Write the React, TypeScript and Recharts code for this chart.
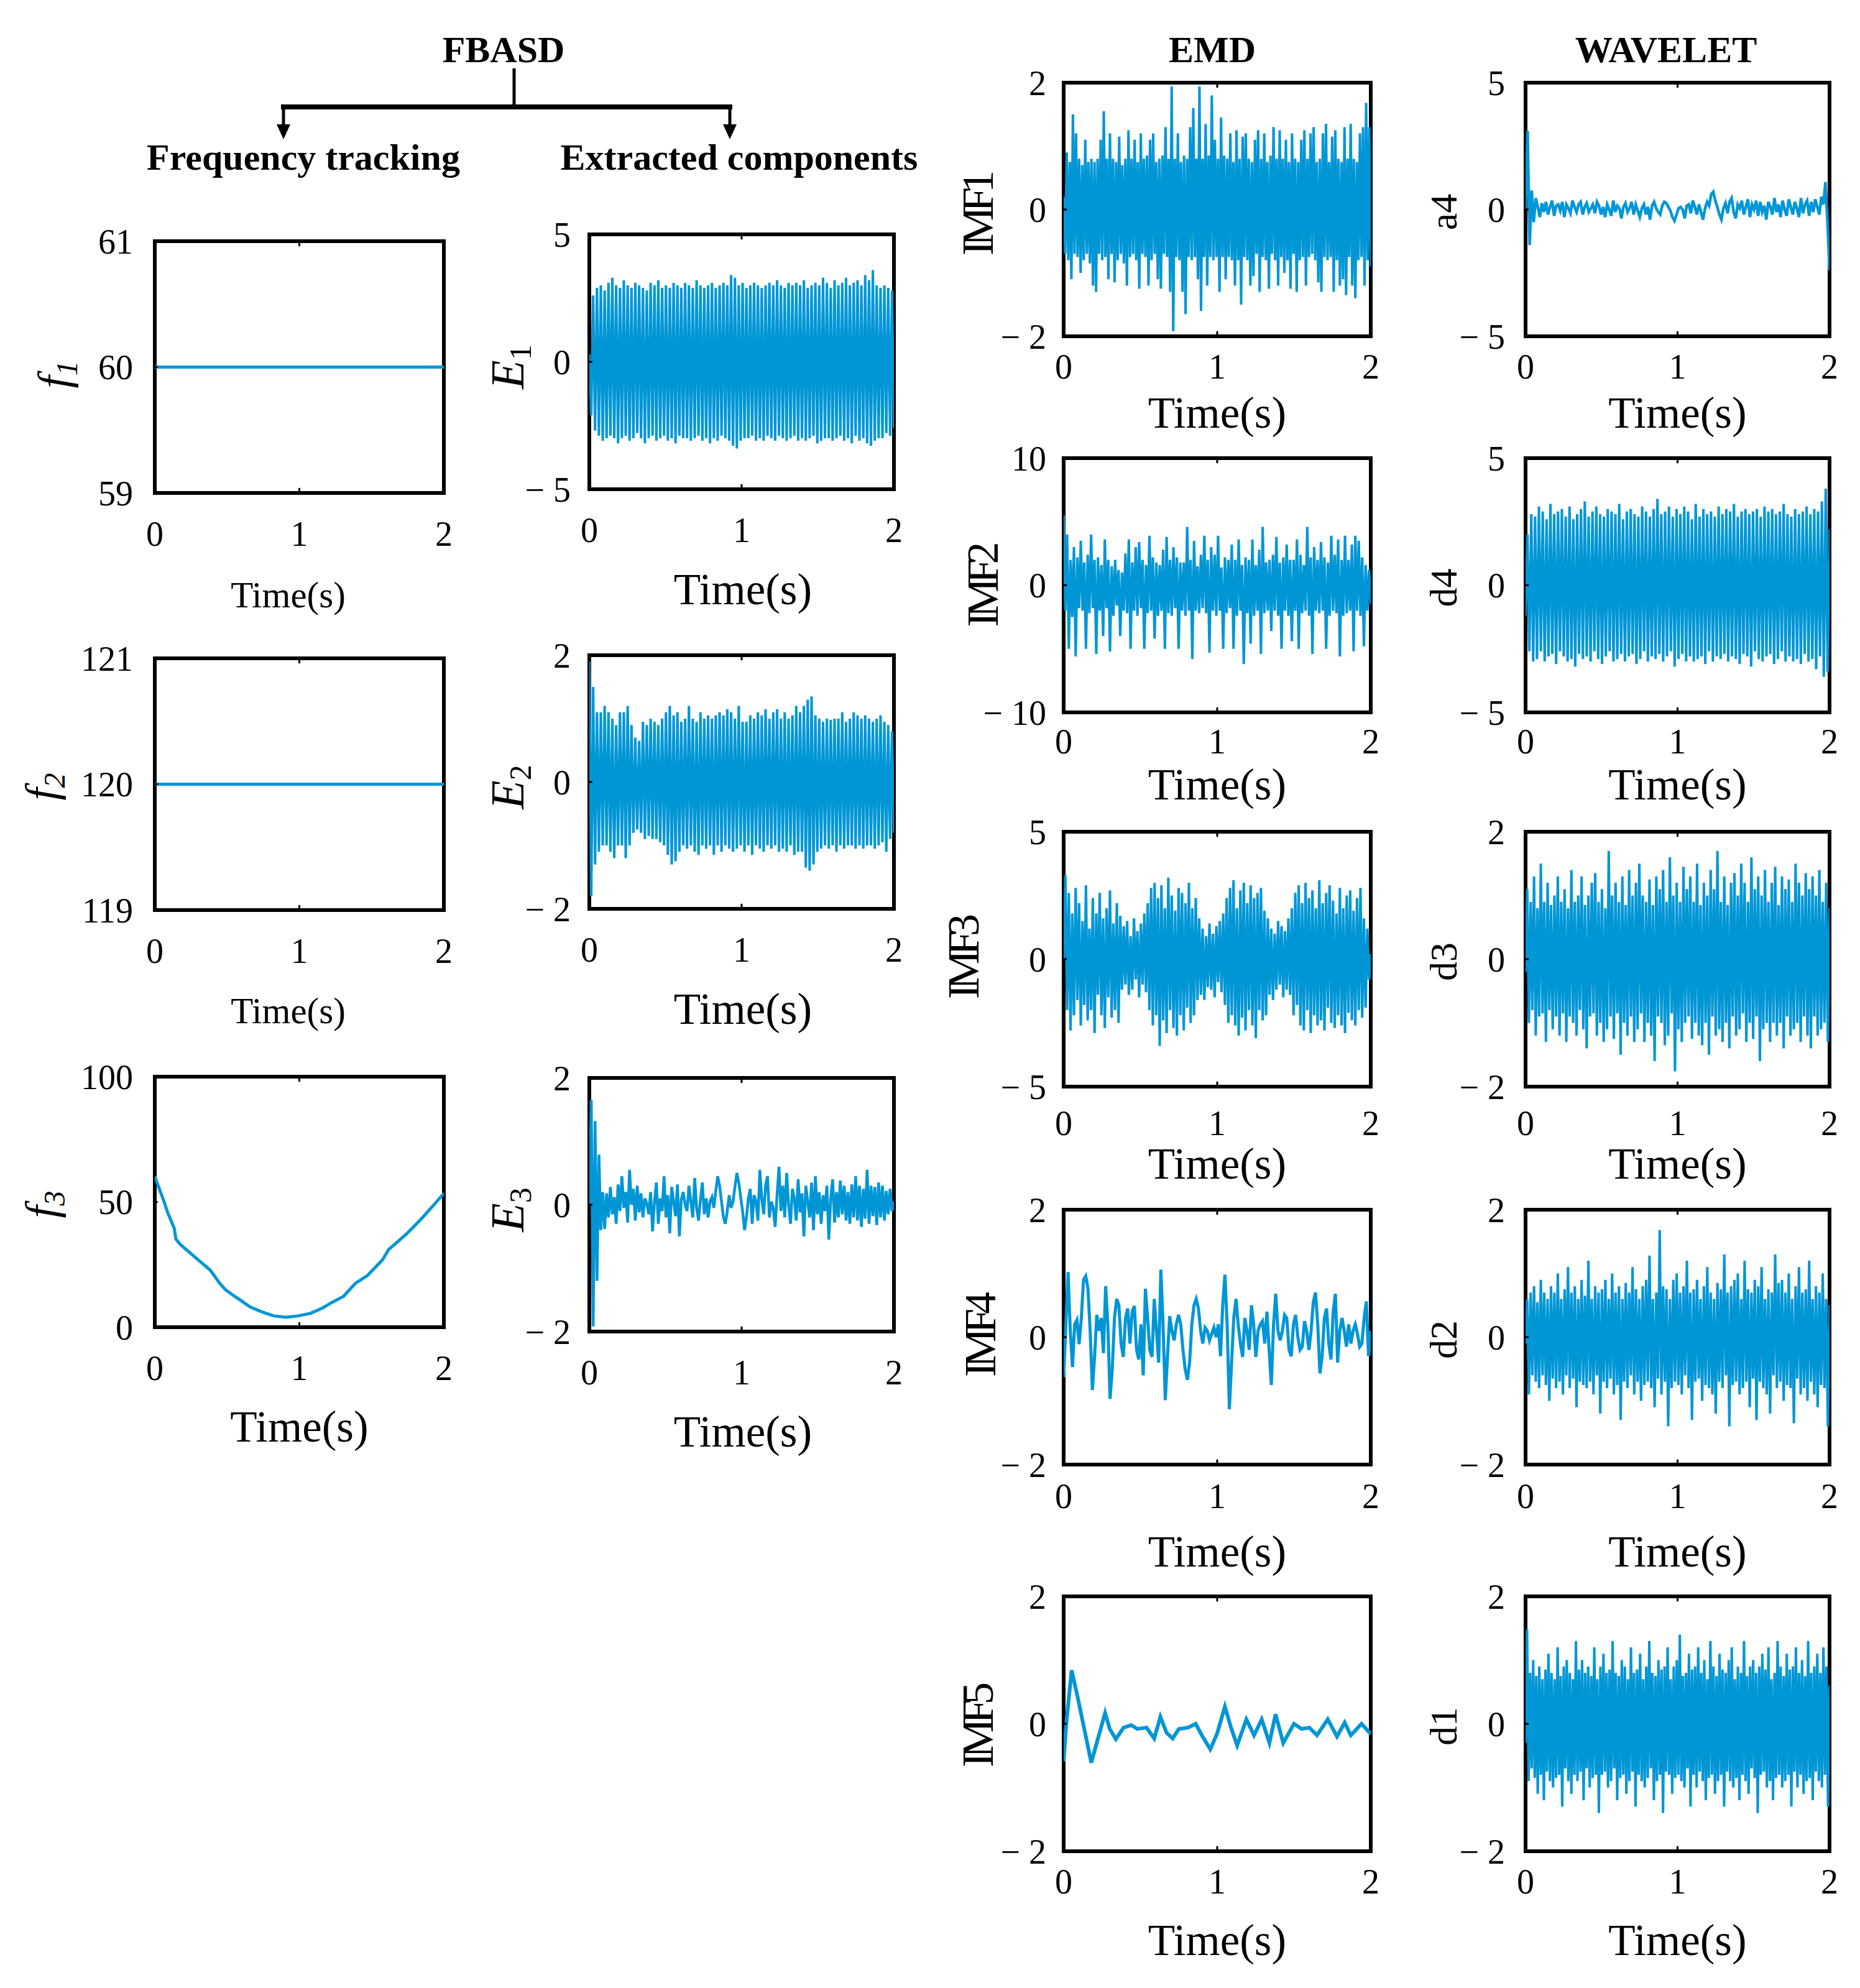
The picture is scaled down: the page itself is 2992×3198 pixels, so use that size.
import React from 'react';
import { LineChart, Line, XAxis, YAxis, ReferenceArea, ReferenceLine } from 'recharts';

const BLUE = '#0096d6';
const FONT = "'Liberation Serif', 'Times New Roman', serif";
const TIME_TICKS = [0, 1, 2];

// ---- FBASD: frequency tracking ----
const f1Values = [60, 60, 60, 60, 60];
const f2Values = [120, 120, 120, 120, 120];
const f3Time = [0, 0.02, 0.06, 0.09, 0.135, 0.146, 0.177, 0.28, 0.385, 0.449, 0.49, 0.553, 0.595, 0.658, 0.72, 0.772, 0.825, 0.908, 0.99, 1.075, 1.159, 1.22, 1.305, 1.388, 1.47, 1.576, 1.618, 1.743, 1.848, 1.93, 2.0];
const f3Values = [60.2, 57, 50.8, 45.6, 39.4, 35.2, 33, 27.9, 22.7, 17.5, 14.9, 12.3, 10.7, 8.1, 6.6, 5.5, 4.5, 4.0, 4.5, 5.5, 7.6, 9.7, 12.3, 17.5, 20.6, 26.9, 31, 37.3, 43.5, 48.8, 53.4];

// ---- FBASD: extracted components ----
const e1Values = [
  0.3, -2.1, 2.6, -2.7, 2.9, -2.9, 3.0, -3.1, 2.8, -3.0,
  3.1, -2.9, 3.3, -3.0, 3.0, -3.2, 2.9, -3.0, 3.2, -2.9,
  3.0, -3.1, 2.9, -3.0, 3.1, -2.8, 3.0, -3.0, 2.9, -3.2,
  2.8, -3.0, 3.1, -2.9, 3.0, -3.1, 3.2, -3.0, 2.9, -2.9,
  3.0, -3.1, 2.9, -3.0, 3.1, -3.2, 3.0, -2.9, 2.9, -3.0,
  3.1, -3.0, 3.0, -3.1, 2.9, -3.0, 3.2, -2.9, 3.0, -3.1,
  2.9, -3.0, 3.0, -3.2, 3.1, -3.0, 2.9, -3.1, 3.0, -2.9,
  3.1, -3.0, 3.0, -3.1, 3.4, -3.3, 3.3, -3.4, 3.0, -3.1,
  3.1, -3.0, 2.9, -3.0, 3.0, -2.9, 3.1, -3.1, 3.0, -3.0,
  2.9, -3.1, 3.0, -2.9, 3.1, -3.0, 3.0, -3.1, 3.2, -2.9,
  3.0, -3.0, 2.9, -3.1, 3.1, -3.0, 3.0, -2.9, 3.1, -3.1,
  3.0, -3.0, 3.2, -3.1, 2.9, -3.0, 3.0, -2.9, 3.1, -3.2,
  3.0, -3.1, 3.3, -3.0, 3.1, -3.0, 2.9, -3.1, 3.2, -3.0,
  3.0, -2.9, 3.1, -3.1, 3.3, -3.0, 3.0, -3.2, 3.1, -2.9,
  3.2, -3.1, 3.0, -3.0, 3.4, -3.2, 3.2, -3.3, 3.6, -3.1,
  3.0, -3.0, 2.9, -3.0, 3.0, -2.8, 2.9, -2.9, 2.8, -2.6,
];
const e2Values = [
  1.9, -1.8, 1.5, -1.3, 1.1, -1.1, 1.1, -1.0, 1.2, -1.0,
  1.1, -1.1, 1.0, -1.2, 0.9, -1.0, 1.1, -1.0, 1.1, -1.2,
  1.2, -1.0, 0.9, -0.8, 0.7, -0.75, 0.65, -0.8, 0.95, -0.9,
  0.9, -0.85, 1.0, -0.9, 0.95, -0.9, 0.9, -0.95, 1.0, -1.0,
  1.1, -1.15, 1.2, -1.3, 1.05, -1.25, 1.1, -1.1, 0.95, -1.0,
  1.0, -1.05, 1.2, -1.0, 1.0, -1.1, 0.95, -1.15, 1.1, -1.0,
  1.0, -1.05, 1.05, -1.0, 1.0, -1.15, 1.05, -1.0, 1.1, -1.1,
  1.05, -1.0, 1.15, -1.05, 1.1, -1.1, 1.0, -1.05, 1.2, -1.0,
  0.95, -1.1, 0.95, -1.0, 1.05, -1.15, 1.0, -1.0, 1.1, -1.05,
  1.05, -1.1, 1.15, -1.0, 1.0, -1.05, 1.1, -1.0, 1.15, -1.1,
  1.0, -1.05, 1.1, -1.1, 1.0, -1.0, 1.05, -1.15, 1.2, -1.1,
  1.1, -1.1, 1.2, -1.35, 1.3, -1.4, 1.35, -1.3, 1.05, -1.1,
  1.0, -1.05, 0.95, -1.0, 1.0, -1.05, 0.98, -1.0, 1.0, -1.1,
  1.0, -1.0, 1.1, -1.05, 0.95, -1.0, 1.0, -1.0, 1.1, -1.05,
  1.05, -1.0, 1.0, -1.05, 1.05, -1.0, 1.0, -1.0, 0.95, -1.05,
  1.0, -1.0, 1.05, -0.95, 0.95, -1.1, 0.9, -0.9, 0.8, -0.8,
];
const e3Values = [
  0.0, 1.65, -1.92, 1.32, -1.2, 0.79, -0.4, 0.2, -0.38, 0.18,
  -0.2, 0.28, -0.15, 0.12, -0.3, 0.32, -0.1, 0.45, -0.05, 0.2,
  -0.28, 0.55, 0.0, 0.25, -0.25, 0.3, -0.12, 0.18, -0.2, 0.1,
  0.02, -0.15, 0.2, -0.42, 0.05, 0.35, -0.3, 0.1, -0.1, 0.45,
  -0.2, 0.15, -0.45, 0.28, 0.05, -0.18, 0.32, -0.5, 0.08, 0.2,
  0.0, -0.1, 0.3, 0.05, -0.2, 0.42, -0.05, -0.25, 0.08, 0.35,
  -0.15, 0.1, -0.2, 0.05, 0.12, -0.05, 0.22, 0.45, 0.3, 0.05,
  -0.2, -0.3, -0.1, 0.15, -0.05, 0.05, 0.28, 0.5, 0.35, 0.12,
  -0.1, -0.4, -0.2, 0.1, 0.25, -0.3, 0.15, 0.05, -0.25, 0.55,
  0.1, -0.15, 0.3, 0.45, -0.2, 0.05, -0.05, -0.35, 0.15, 0.6,
  -0.1, 0.3, -0.2, 0.5, 0.0, -0.3, 0.25, 0.1, -0.25, 0.4,
  -0.12, 0.18, -0.5, 0.3, 0.05, -0.2, 0.35, -0.4, 0.45, -0.15,
  0.2, -0.3, 0.15, -0.1, 0.3, -0.55, 0.1, 0.4, -0.28, 0.2,
  -0.2, 0.38, -0.15, 0.3, -0.25, 0.2, -0.3, 0.32, -0.2, 0.45,
  -0.25, 0.3, -0.35, 0.25, -0.22, 0.55, -0.3, 0.3, -0.18, 0.28,
  -0.32, 0.35, -0.2, 0.3, -0.25, 0.22, -0.15, 0.25, -0.1, 0.05,
];

// ---- EMD ----
const imf1Values = [
  0.2, -0.7, 0.9, -0.8, 0.75, -1.1, 1.5, -0.7, 1.2, -0.75,
  0.8, -1.0, 0.7, -0.8, 1.1, -0.7, 0.75, -0.85, 0.8, -1.2,
  0.75, -1.3, 0.8, -0.7, 1.1, -0.8, 1.55, -0.75, 0.8, -1.1,
  1.2, -0.7, 0.8, -1.15, 0.75, -0.8, 1.15, -0.7, 0.7, -0.85,
  0.8, -1.2, 1.25, -0.75, 0.8, -0.7, 1.1, -0.8, 0.75, -1.25,
  1.2, -0.7, 0.8, -0.75, 0.85, -1.2, 1.1, -0.8, 1.2, -0.7,
  0.75, -1.1, 0.8, -1.25, 0.85, -0.7, 1.3, -0.75, 0.8, -1.3,
  1.94, -1.92, 0.8, -0.75, 1.2, -0.8, 0.75, -1.3, 0.85, -1.65,
  0.8, -0.75, 1.3, -0.8, 1.6, -0.75, 0.8, -1.1, 1.94, -1.6,
  0.8, -0.75, 1.35, -1.2, 0.85, -0.75, 1.8, -0.8, 1.1, -0.75,
  0.8, -1.3, 1.45, -0.75, 0.85, -1.1, 0.8, -0.75, 1.2, -0.8,
  0.75, -1.2, 1.25, -0.8, 0.8, -1.5, 1.15, -0.75, 1.2, -0.8,
  0.8, -1.2, 0.75, -1.05, 1.1, -0.7, 1.25, -1.3, 0.8, -0.75,
  1.2, -0.8, 0.75, -1.25, 0.85, -0.7, 1.3, -0.8, 0.8, -1.2,
  1.25, -0.75, 0.8, -1.0, 1.1, -0.8, 0.75, -1.25, 1.2, -0.7,
  0.8, -1.3, 0.75, -0.8, 1.1, -0.75, 1.25, -1.2, 0.8, -0.75,
  1.2, -0.7, 1.3, -0.8, 0.75, -1.15, 0.8, -1.3, 1.2, -0.75,
  1.35, -0.8, 0.75, -0.75, 1.15, -1.3, 1.25, -0.8, 0.8, -1.2,
  0.75, -1.1, 1.3, -1.35, 0.8, -0.75, 1.35, -1.2, 0.8, -1.4,
  0.75, -0.8, 1.2, -0.75, 1.3, -1.2, 1.68, -0.8, 1.3, -0.9,
];
const imf2Values = [
  5.5, -2.0, 4.0, -5.0, 2.0, -2.5, 3.0, -5.6, 2.2, -1.8,
  3.5, -2.0, 1.8, -5.0, 2.4, -2.2, 4.0, -1.8, 2.0, -5.4,
  2.2, -2.0, 1.6, -4.0, 3.6, -1.8, 2.0, -5.2, 1.5, -2.4,
  2.0, -1.6, 1.2, -4.0, 1.0, -2.0, 2.5, -2.2, 3.6, -5.0,
  1.8, -2.0, 3.0, -2.4, 3.4, -1.8, 2.0, -5.0, 1.6, -2.2,
  3.9, -2.0, 2.2, -4.2, 1.8, -2.4, 1.6, -2.0, 2.8, -5.0,
  3.8, -2.2, 2.0, -2.4, 3.0, -1.8, 2.2, -5.0, 1.8, -2.0,
  1.8, -2.4, 4.6, -2.0, 2.0, -5.8, 3.5, -2.0, 1.5, -2.2,
  2.4, -1.8, 3.9, -2.2, 2.0, -5.3, 3.0, -2.0, 2.4, -2.4,
  3.9, -2.0, 1.4, -5.0, 2.2, -2.2, 2.0, -1.8, 3.2, -5.0,
  2.0, -2.4, 3.6, -2.0, 1.6, -6.2, 2.2, -2.2, 2.0, -4.6,
  3.6, -2.4, 1.6, -2.0, 2.8, -5.4, 4.6, -2.2, 1.8, -2.0,
  2.0, -3.6, 2.4, -2.0, 3.8, -2.4, 1.8, -5.0, 2.2, -2.0,
  3.2, -2.4, 2.0, -4.4, 2.0, -2.0, 3.6, -5.0, 2.4, -2.2,
  1.6, -2.0, 4.6, -2.4, 2.2, -5.4, 3.0, -2.0, 2.0, -2.2,
  3.4, -2.0, 2.2, -5.0, 1.8, -2.4, 3.9, -2.0, 2.4, -2.2,
  3.6, -5.6, 2.0, -2.4, 3.9, -2.2, 2.0, -2.0, 3.2, -5.2,
  3.9, -2.0, 3.5, -2.4, 2.2, -4.8, 1.6, -2.0, 1.2, -1.5,
];
const imf3Values = [
  0.0, 3.3, -2.0, 2.6, -2.8, 1.8, -2.2, 2.8, -1.6, 2.2,
  -2.6, 1.5, -1.8, 2.9, -2.4, 1.2, -2.0, 2.4, -2.9, 1.8,
  -1.4, 2.6, -2.2, 1.6, -2.7, 2.0, -1.5, 2.7, -2.3, 1.4,
  -2.0, 2.2, -2.5, 1.7, -1.2, 1.3, -1.0, 1.5, -1.4, 0.9,
  -1.2, 1.6, -0.8, 1.1, -1.5, 1.4, -1.0, 1.8, -1.3, 2.2,
  -2.0, 2.8, -2.6, 3.0, -2.2, 2.4, -3.4, 2.9, -2.4, 2.0,
  -2.9, 3.2, -2.0, 2.5, -2.7, 1.9, -3.0, 2.8, -2.2, 2.6,
  -2.8, 2.2, -1.9, 3.0, -2.5, 2.0, -2.2, 2.4, -1.6, 1.6,
  -1.4, 1.2, -1.6, 0.9, -1.1, 1.4, -1.2, 1.0, -1.5, 1.3,
  -0.9, 1.5, -1.3, 1.8, -1.8, 2.4, -2.5, 2.8, -2.2, 3.1,
  -2.6, 2.0, -3.0, 2.7, -2.3, 3.0, -2.8, 2.2, -2.0, 2.9,
  -2.6, 2.4, -3.1, 2.6, -2.0, 2.8, -2.4, 1.9, -2.2, 1.6,
  -1.4, 1.2, -1.6, 1.0, -1.2, 1.5, -1.0, 1.3, -1.5, 1.1,
  -1.2, 1.6, -1.4, 2.0, -2.2, 2.6, -1.8, 2.9, -2.6, 2.2,
  -2.8, 3.0, -2.0, 2.4, -2.9, 2.7, -2.2, 2.0, -2.6, 3.1,
  -2.4, 2.2, -2.8, 2.6, -1.9, 2.9, -2.5, 2.3, -2.7, 1.8,
  -2.2, 2.8, -2.6, 2.0, -2.9, 2.5, -2.1, 2.7, -2.4, 1.9,
  -2.6, 2.4, -2.0, 2.8, -2.3, 1.6, -1.9, 1.2, -0.8, 0.2,
];
const imf4Values = [
  -0.63, 0.2, 1.02, 0.1, -0.47, 0.2, 0.27, -0.11, 0.3, 0.9,
  0.96, 0.76, 0.1, -0.83, -0.3, 0.35, 0.1, 0.3, -0.25, 0.8,
  0.2, -0.97, -0.5, 0.3, 0.6, 0.5, -0.1, -0.31, 0.3, 0.45,
  -0.1, 0.4, 0.49, -0.2, -0.35, 0.2, -0.6, 0.76, 0.3, -0.2,
  -0.31, 0.6, 0.1, -0.4, 1.06, 0.2, -0.99, -0.3, 0.33, 0.1,
  -0.05, 0.2, 0.35, 0.2, -0.2, -0.5, -0.67, -0.4, 0.2, 0.5,
  0.6, 0.45, 0.1, -0.1, 0.15, 0.1, -0.05, 0.05, 0.15, 0.0,
  0.2, -0.3, 0.5, 0.98, 0.2, -1.13, -0.4, 0.3, 0.6, 0.2,
  -0.1, -0.31, 0.3, 0.1, -0.2, 0.5, 0.2, -0.31, 0.1, 0.2,
  0.25, -0.1, 0.4, -0.2, -0.75, 0.2, 0.68, 0.1, -0.05, 0.1,
  0.35, 0.3, -0.2, -0.3, 0.2, 0.35, 0.0, -0.2, -0.15, 0.25,
  0.1, -0.2, 0.1, 0.55, 0.7, 0.2, -0.57, -0.3, 0.3, 0.45,
  -0.1, -0.35, 0.4, 0.68, -0.4, 0.1, 0.3, 0.1, -0.15, 0.2,
  -0.1, 0.1, 0.2, 0.05, -0.15, -0.1, 0.3, 0.56, -0.3, 0.1,
];
const imf5Time = [0, 0.017, 0.052, 0.09, 0.18, 0.22, 0.27, 0.3, 0.34, 0.39, 0.44, 0.48, 0.54, 0.59, 0.63, 0.67, 0.71, 0.75, 0.81, 0.86, 0.9, 0.955, 1.0, 1.05, 1.09, 1.13, 1.19, 1.24, 1.29, 1.34, 1.38, 1.43, 1.5, 1.55, 1.6, 1.65, 1.72, 1.78, 1.83, 1.87, 1.94, 2.0];
const imf5Values = [-0.59, 0.0, 0.84, 0.43, -0.61, -0.26, 0.17, -0.08, -0.24, -0.06, -0.02, -0.08, -0.06, -0.23, 0.11, -0.14, -0.23, -0.08, -0.06, 0.0, -0.18, -0.4, -0.15, 0.27, -0.06, -0.34, 0.07, -0.18, 0.07, -0.3, 0.15, -0.3, 0.0, -0.08, -0.06, -0.18, 0.07, -0.2, 0.02, -0.18, 0.0, -0.16];

// ---- WAVELET ----
const a4Values = [
  0.0, 3.1, -1.4, 0.75, -0.5, 0.45, 0.1, -0.3, 0.25, -0.1,
  0.3, -0.2, 0.1, 0.35, -0.25, 0.15, 0.2, -0.05, 0.3, -0.3,
  0.2, 0.05, -0.15, 0.35, 0.1, -0.1, 0.2, 0.3, -0.2, 0.1,
  0.25, -0.1, 0.05, 0.2, -0.15, 0.3, 0.15, -0.2, 0.1, -0.3,
  0.2, 0.0, -0.25, 0.35, -0.1, 0.15, 0.05, -0.35, 0.1, 0.25,
  -0.1, 0.05, 0.3, -0.2, 0.2, -0.05, -0.3, 0.05, 0.2, -0.2,
  0.1, -0.4, 0.15, 0.3, 0.05, -0.1, -0.2, 0.15, 0.3, 0.25,
  0.1, -0.05, -0.3, -0.45, -0.2, 0.05, 0.1, 0.0, -0.35, 0.15,
  0.2, -0.15, 0.35, 0.1, -0.2, 0.2, -0.1, -0.4, 0.05, 0.3,
  0.15, 0.6, 0.7, 0.35, 0.1, -0.2, -0.4, 0.05, 0.25, -0.15,
  0.3, 0.45, -0.1, -0.35, 0.2, 0.05, 0.35, -0.2, 0.1, 0.4,
  -0.3, 0.2, 0.0, 0.35, -0.25, 0.3, -0.1, 0.15, -0.4, 0.3,
  0.1, -0.2, 0.45, -0.1, 0.2, -0.3, 0.35, 0.0, -0.25, 0.4,
  0.1, -0.2, 0.3, 0.05, -0.3, 0.45, -0.15, 0.2, 0.35, -0.25,
  0.3, -0.1, 0.4, 0.1, -0.2, 0.5, 0.2, 1.08, -0.5, -2.4,
];
const d4Values = [
  -1.2, 2.0, -2.6, 2.8, -3.0, 2.7, -2.9, 3.1, -2.6, 2.9,
  -3.0, 2.6, -2.8, 3.2, -2.7, 2.8, -3.1, 2.9, -2.6, 3.0,
  -2.8, 2.7, -3.0, 3.1, -2.9, 2.6, -3.2, 2.8, -2.7, 3.0,
  -2.9, 3.3, -2.8, 2.7, -3.0, 2.9, -2.6, 3.1, -2.9, 2.8,
  -3.1, 2.7, -2.8, 3.0, -2.6, 2.9, -3.0, 2.8, -2.9, 3.2,
  -2.7, 2.6, -3.0, 2.9, -2.8, 3.0, -2.7, 2.8, -3.1, 2.7,
  -2.9, 3.1, -2.6, 2.9, -3.0, 2.7, -2.8, 3.0, -2.9, 3.4,
  -2.7, 2.8, -3.0, 2.9, -2.8, 3.1, -2.6, 2.7, -3.2, 3.0,
  -2.9, 2.8, -2.7, 3.1, -3.0, 2.9, -2.8, 2.6, -3.0, 3.2,
  -2.9, 2.7, -2.8, 3.0, -3.1, 2.8, -2.6, 2.9, -3.0, 2.7,
  -2.8, 3.1, -2.9, 2.8, -2.7, 3.0, -3.0, 2.9, -2.8, 3.2,
  -2.9, 2.7, -3.1, 2.9, -2.7, 3.0, -2.8, 2.8, -3.2, 2.9,
  -2.6, 3.0, -2.9, 2.7, -3.0, 3.1, -2.8, 2.9, -2.7, 3.0,
  -3.1, 2.8, -2.9, 2.9, -2.6, 3.2, -3.0, 2.8, -2.8, 2.7,
  -3.0, 3.0, -2.9, 2.8, -3.1, 2.9, -2.7, 3.1, -3.0, 2.8,
  -2.9, 3.0, -3.3, 2.9, -2.8, 3.3, -3.6, 3.8, -3.4, 2.2,
];
const d3Values = [
  -0.2, 1.1, -1.0, 0.9, -0.8, 1.3, -1.2, 0.8, -0.9, 1.5,
  -0.85, 0.9, -1.3, 1.2, -0.8, 0.85, -1.1, 1.0, -0.9, 1.3,
  -1.2, 0.9, -0.85, 1.1, -1.3, 0.8, -0.9, 1.4, -1.0, 0.9,
  -1.2, 1.0, -0.8, 1.3, -1.1, 0.85, -1.4, 1.0, -0.9, 1.2,
  -0.85, 1.35, -1.2, 0.9, -1.0, 1.1, -1.3, 0.8, -1.1, 1.7,
  -0.9, 1.0, -1.25, 1.2, -0.85, 0.9, -1.5, 1.3, -1.0, 0.85,
  -1.2, 1.4, -0.9, 1.0, -1.3, 1.2, -1.1, 1.5, -0.85, 1.0,
  -1.3, 0.9, -1.0, 1.25, -1.2, 0.85, -1.6, 1.3, -0.9, 1.1,
  -1.0, 1.4, -1.35, 0.9, -1.2, 1.6, -0.85, 1.0, -1.76, 1.2,
  -1.1, 0.9, -1.3, 1.45, -1.0, 1.1, -0.9, 1.3, -1.25, 0.9,
  -1.0, 1.5, -1.2, 0.85, -1.35, 1.2, -1.0, 1.0, -1.5, 1.4,
  -0.9, 1.1, -1.2, 1.7, -1.1, 0.9, -1.3, 1.3, -1.0, 0.85,
  -1.4, 1.2, -0.9, 1.35, -1.2, 1.0, -1.1, 1.5, -0.85, 1.2,
  -1.3, 0.9, -1.0, 1.6, -1.25, 1.1, -0.9, 1.3, -1.6, 1.0,
  -1.1, 1.4, -1.0, 0.9, -1.3, 1.2, -1.0, 1.45, -1.2, 0.85,
  -1.0, 1.3, -1.4, 1.1, -0.9, 1.25, -1.2, 0.9, -1.1, 1.5,
  -1.0, 1.2, -1.3, 1.0, -0.9, 1.35, -1.2, 1.1, -1.4, 1.3,
  -0.9, 1.0, -1.2, 1.4, -1.1, 0.9, -1.0, 1.2, -1.3, 0.8,
];
const d2Values = [
  -0.1, 0.6, -0.9, 0.7, -0.6, 0.8, -0.7, 0.55, -0.8, 0.9,
  -0.6, 0.7, -0.75, 0.6, -1.0, 0.8, -0.65, 0.7, -0.8, 1.0,
  -0.7, 0.6, -0.9, 0.75, -0.6, 1.1, -0.8, 0.7, -0.65, 0.8,
  -1.1, 0.6, -0.7, 0.9, -0.75, 0.65, -0.8, 1.2, -0.7, 0.6,
  -0.9, 0.8, -0.6, 0.7, -1.2, 0.75, -0.7, 0.9, -0.8, 0.6,
  -0.65, 1.0, -0.9, 0.7, -0.75, 0.8, -1.3, 0.6, -0.7, 0.85,
  -0.8, 0.7, -0.6, 1.1, -0.9, 0.75, -0.7, 0.6, -1.0, 0.8,
  -0.75, 0.9, -0.7, 1.28, -0.8, 0.6, -1.1, 0.7, -0.65, 1.68,
  -0.9, 0.8, -0.7, 0.75, -1.4, 0.6, -0.8, 0.9, -0.7, 1.0,
  -0.75, 0.7, -0.9, 0.8, -0.6, 1.2, -0.8, 0.7, -1.3, 0.75,
  -0.7, 0.9, -0.65, 0.6, -1.0, 0.8, -0.75, 1.1, -0.8, 0.7,
  -0.9, 0.6, -1.2, 0.85, -0.7, 0.75, -0.8, 1.3, -0.6, 0.7,
  -1.4, 0.8, -0.75, 0.9, -0.7, 1.0, -0.9, 0.6, -0.8, 1.2,
  -0.7, 0.75, -1.1, 0.7, -0.65, 0.9, -1.3, 0.8, -0.7, 1.1,
  -0.8, 0.6, -0.9, 0.75, -1.2, 0.7, -0.6, 1.3, -0.8, 0.85,
  -0.7, 0.9, -1.0, 0.7, -0.75, 1.0, -0.8, 0.6, -1.35, 0.8,
  -0.65, 1.1, -0.9, 0.7, -0.8, 0.75, -1.0, 1.2, -0.7, 0.6,
  -0.9, 0.8, -1.1, 0.7, -0.75, 1.0, -0.8, 0.6, -1.4, 0.5,
];
const d1Values = [
  -0.3, 1.48, -0.9, 0.8, -0.7, 1.0, -0.85, 0.75, -1.1, 0.9,
  -0.8, 0.7, -1.2, 0.85, -0.75, 1.1, -0.9, 0.8, -1.0, 0.7,
  -0.85, 1.2, -0.8, 0.75, -1.3, 0.9, -0.7, 1.0, -0.9, 0.8,
  -1.1, 0.7, -0.8, 1.3, -0.9, 0.85, -0.75, 1.0, -1.2, 0.8,
  -0.7, 0.9, -1.0, 0.75, -0.85, 1.2, -0.8, 0.7, -1.4, 0.9,
  -0.8, 1.1, -0.75, 0.8, -1.0, 0.85, -0.9, 1.3, -0.7, 0.8,
  -1.2, 0.75, -0.85, 1.0, -0.8, 0.9, -1.1, 0.7, -0.9, 1.2,
  -0.75, 0.8, -1.3, 0.85, -0.8, 1.1, -0.9, 0.7, -1.0, 0.9,
  -0.85, 1.3, -0.7, 0.8, -1.2, 0.75, -0.9, 1.0, -0.8, 0.85,
  -1.4, 0.9, -0.75, 1.2, -0.8, 0.7, -1.1, 0.9, -0.85, 1.0,
  -0.8, 1.4, -0.9, 0.75, -1.0, 0.8, -0.7, 1.1, -1.3, 0.85,
  -0.8, 0.9, -1.0, 1.2, -0.75, 0.8, -0.9, 1.0, -1.2, 0.7,
  -0.85, 1.3, -0.8, 0.9, -1.1, 0.75, -0.9, 1.1, -0.8, 0.85,
  -1.3, 0.8, -0.75, 1.0, -0.9, 1.2, -1.0, 0.7, -0.85, 0.9,
  -1.2, 0.8, -0.8, 1.3, -0.9, 0.75, -1.1, 0.9, -0.7, 1.0,
  -0.85, 0.8, -1.4, 0.9, -0.8, 1.1, -0.75, 0.85, -1.0, 1.2,
  -0.9, 0.7, -1.2, 0.8, -0.85, 1.3, -0.8, 0.9, -1.0, 0.75,
  -0.9, 1.1, -0.8, 0.85, -1.3, 0.9, -0.75, 1.2, -1.0, 0.8,
  -0.8, 1.0, -1.1, 0.75, -0.9, 1.3, -0.85, 0.8, -1.2, 0.9,
  -0.75, 1.1, -0.9, 0.8, -1.0, 1.2, -0.8, 0.9, -1.3, 0.6,
];

type Row = { t: number; v: number };
// evenly sampled over 0..2 s
const uniform = (vals: number[]): Row[] => vals.map((v, i) => ({ t: (2 * i) / (vals.length - 1), v }));
const paired = (ts: number[], vals: number[]): Row[] => ts.map((t, i) => ({ t, v: vals[i] }));

const fmtTick = (v: number) => (v < 0 ? `\u2212 ${Math.abs(v)}` : String(v));

type Part = { text: string; italic?: boolean; sub?: boolean };

interface PanelProps {
  x: number; y: number; w: number; h: number;
  data: Row[];
  domain: [number, number];
  yTicks: number[];
  label: Part[];
  labelSize: number;
  labelSpacing?: number;
  labelDx: number;
  labelDy?: number;
  yTickGap: number;
  xTickGap: number;
  timeGap: number;
  timeSize?: number;
  timeDx?: number;
  stroke?: number;
}

const L = 230, T = 40, R = 40, B = 240;
const tickStyle = { fontSize: 56, fill: '#000', fontFamily: FONT };

function Panel(p: PanelProps) {
  const lx = L + p.labelDx;
  const ly = T + p.h / 2 + (p.labelDy || 0);
  const tx = L + p.w / 2 + (p.timeDx || 0);
  const ty = T + p.h + p.timeGap;
  const subSize = Math.round(p.labelSize * 0.66);
  const [lo, hi] = p.domain;
  const mid = (lo + hi) / 2;
  const tick = (hi - lo) * 0.02;

  const yTitle = () => (
    <text x={lx} y={ly} transform={`rotate(-90 ${lx} ${ly})`} textAnchor="middle" dominantBaseline="central"
      fontFamily={FONT} fontSize={p.labelSize} letterSpacing={p.labelSpacing || 0} fill="#000">
      {p.label.map((part, i) => (
        <tspan key={i} fontStyle={part.italic ? 'italic' : 'normal'} fontSize={part.sub ? subSize : p.labelSize}
          dy={part.sub ? p.labelSize * 0.28 : 0}>{part.text}</tspan>
      ))}
    </text>
  );
  const xTitle = () => (
    <text x={tx} y={ty} textAnchor="middle" dominantBaseline="central" fontFamily={FONT}
      fontSize={p.timeSize || 71} fill="#000">Time(s)</text>
  );

  return (
    <div style={{ position: 'absolute', left: p.x - L, top: p.y - T }}>
      <LineChart width={p.w + L + R} height={p.h + T + B} data={p.data} margin={{ top: T, right: R, bottom: 0, left: 0 }}>
        <XAxis type="number" dataKey="t" domain={[0, 2]} ticks={TIME_TICKS} allowDataOverflow interval={0}
          axisLine={false} tickLine={false} tickSize={0} tickMargin={p.xTickGap - 21} height={B}
          tick={tickStyle} label={xTitle} />
        <YAxis type="number" domain={p.domain} ticks={p.yTicks} allowDataOverflow interval={0}
          axisLine={false} tickLine={false} tickSize={0} tickMargin={p.yTickGap} width={L}
          tick={tickStyle} tickFormatter={fmtTick} label={yTitle} />
        <Line type="linear" dataKey="v" stroke={BLUE} strokeWidth={p.stroke || 4} dot={false} isAnimationActive={false} />
        <ReferenceLine segment={[{ x: 1, y: hi }, { x: 1, y: hi - tick }]} stroke="#000" strokeWidth={3} ifOverflow="visible" />
        <ReferenceLine segment={[{ x: 1, y: lo }, { x: 1, y: lo + tick }]} stroke="#000" strokeWidth={3} ifOverflow="visible" />
        <ReferenceLine segment={[{ x: 0, y: mid }, { x: 0.02, y: mid }]} stroke="#000" strokeWidth={3} ifOverflow="visible" />
        <ReferenceArea x1={0} x2={2} y1={lo} y2={hi} ifOverflow="visible"
          fill="none" stroke="#000" strokeWidth={6} />
      </LineChart>
    </div>
  );
}

const fLab = (n: string): Part[] => [{ text: 'f', italic: true }, { text: n, italic: true, sub: true }];
const eLab = (n: string): Part[] => [{ text: 'E', italic: true }, { text: n, sub: true }];

const col1 = { x: 249, w: 465, yTickGap: 35, xTickGap: 66, labelSize: 72, stroke: 5 };
const col2 = { x: 948, w: 490, yTickGap: 30, xTickGap: 66, labelSize: 76, labelDx: -132, labelDy: 8, timeGap: 161, timeDx: 2 };
const col3 = { x: 1711, w: 494, yTickGap: 28, labelSize: 72, labelSpacing: -9 };
const col4 = { x: 2454, w: 489, yTickGap: 33, labelSize: 62, labelDx: -132, labelDy: 4 };
const rows = [
  { y: 133, h: 408, xTickGap: 49, timeGap: 123 },
  { y: 737, h: 409, xTickGap: 47, timeGap: 116 },
  { y: 1338, h: 410, xTickGap: 59, timeGap: 124 },
  { y: 1946, h: 410, xTickGap: 51, timeGap: 140 },
  { y: 2568, h: 410, xTickGap: 49, timeGap: 143 },
];

const panels: PanelProps[] = [
  { ...col1, y: 388, h: 405, data: uniform(f1Values), domain: [59, 61], yTicks: [59, 60, 61], label: fLab('1'), labelDx: -162, labelDy: 12, timeGap: 164, timeSize: 59, timeDx: -18 },
  { ...col1, y: 1059, h: 405, data: uniform(f2Values), domain: [119, 121], yTicks: [119, 120, 121], label: fLab('2'), labelDx: -182, labelDy: 4, timeGap: 162, timeSize: 59, timeDx: -18 },
  { ...col1, y: 1732, h: 403, data: paired(f3Time, f3Values), domain: [0, 100], yTicks: [0, 50, 100], label: fLab('3'), labelDx: -182, labelDy: 4, timeGap: 160 },
  { ...col2, y: 377, h: 410, data: uniform(e1Values), domain: [-5, 5], yTicks: [-5, 0, 5], label: eLab('1') },
  { ...col2, y: 1054, h: 408, data: uniform(e2Values), domain: [-2, 2], yTicks: [-2, 0, 2], label: eLab('2') },
  { ...col2, y: 1734, h: 408, data: uniform(e3Values), domain: [-2, 2], yTicks: [-2, 0, 2], label: eLab('3'), stroke: 4.5 },
  { ...col3, ...rows[0], data: uniform(imf1Values), domain: [-2, 2], yTicks: [-2, 0, 2], label: [{ text: 'IMF1' }], labelDx: -138, labelDy: 10 },
  { ...col3, ...rows[1], data: uniform(imf2Values), domain: [-10, 10], yTicks: [-10, 0, 10], label: [{ text: 'IMF2' }], labelDx: -130, labelDy: 3 },
  { ...col3, ...rows[2], data: uniform(imf3Values), domain: [-5, 5], yTicks: [-5, 0, 5], label: [{ text: 'IMF3' }], labelDx: -161 },
  { ...col3, ...rows[3], data: uniform(imf4Values), domain: [-2, 2], yTicks: [-2, 0, 2], label: [{ text: 'IMF4' }], labelDx: -134, stroke: 5 },
  { ...col3, ...rows[4], data: paired(imf5Time, imf5Values), domain: [-2, 2], yTicks: [-2, 0, 2], label: [{ text: 'IMF5' }], labelDx: -138, labelDy: 6, stroke: 6 },
  { ...col4, ...rows[0], data: uniform(a4Values), domain: [-5, 5], yTicks: [-5, 0, 5], label: [{ text: 'a4' }], stroke: 4.5 },
  { ...col4, ...rows[1], data: uniform(d4Values), domain: [-5, 5], yTicks: [-5, 0, 5], label: [{ text: 'd4' }] },
  { ...col4, ...rows[2], data: uniform(d3Values), domain: [-2, 2], yTicks: [-2, 0, 2], label: [{ text: 'd3' }] },
  { ...col4, ...rows[3], data: uniform(d2Values), domain: [-2, 2], yTicks: [-2, 0, 2], label: [{ text: 'd2' }] },
  { ...col4, ...rows[4], data: uniform(d1Values), domain: [-2, 2], yTicks: [-2, 0, 2], label: [{ text: 'd1' }] },
];

function Headings() {
  return (
    <svg width={2992} height={3198} style={{ position: 'absolute', left: 0, top: 0 }}>
      <g fontFamily={FONT} fontWeight="bold" fontSize={60} fill="#000" textAnchor="middle">
        <text x={810} y={100}>FBASD</text>
        <text x={488} y={273}>Frequency tracking</text>
        <text x={1189} y={273}>Extracted components</text>
        <text x={1950} y={100}>EMD</text>
        <text x={2680} y={100}>WAVELET</text>
      </g>
      <g stroke="#000">
        <line x1={827} y1={110} x2={827} y2={172} strokeWidth={5} />
        <line x1={452} y1={172} x2={1178} y2={172} strokeWidth={8} />
        <line x1={456} y1={172} x2={456} y2={204} strokeWidth={5} />
        <line x1={1174} y1={172} x2={1174} y2={204} strokeWidth={5} />
      </g>
      <polygon points="445,200 467,200 456,224" fill="#000" />
      <polygon points="1163,200 1185,200 1174,224" fill="#000" />
    </svg>
  );
}

export default function App() {
  return (
    <div style={{ position: 'absolute', left: 0, top: 0, width: 2992, height: 3198, background: '#fff', overflow: 'hidden' }}>
      <Headings />
      {panels.map((p, i) => <Panel key={i} {...p} />)}
    </div>
  );
}
